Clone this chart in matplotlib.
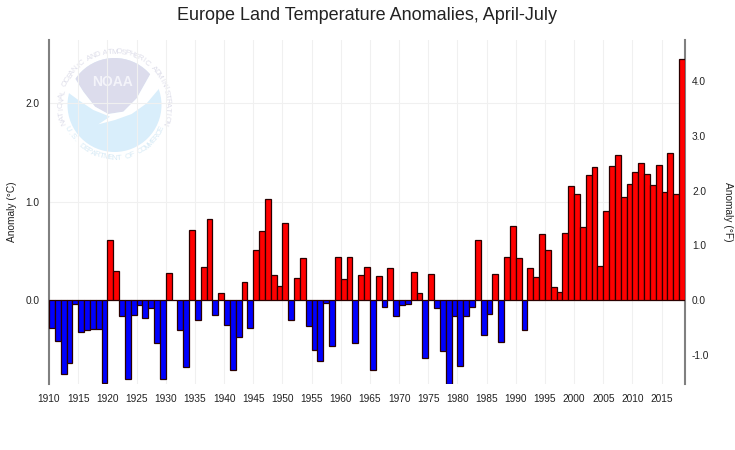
import numpy as np
import matplotlib
matplotlib.use('Agg')
import matplotlib.pyplot as plt
from matplotlib.patches import Circle, Polygon

plt.rcParams['font.family'] = ['Liberation Sans', 'DejaVu Sans']

# anomaly values in degrees C
years = list(range(1910, 2019))
anomaly_1910s = [-0.28, -0.42, -0.75, -0.64, -0.04, -0.32, -0.30, -0.29, -0.295, -0.84]
anomaly_1920s = [0.61, 0.29, -0.16, -0.80, -0.15, -0.05, -0.18, -0.08, -0.44, -0.80]
anomaly_1930s = [0.27, 0.005, -0.30, -0.68, 0.71, -0.20, 0.335, 0.825, -0.15, 0.07]
anomaly_1940s = [-0.25, -0.71, -0.375, 0.18, -0.28, 0.51, 0.70, 1.03, 0.25, 0.14]
anomaly_1950s = [0.78, -0.20, 0.22, 0.43, -0.26, -0.51, -0.615, -0.035, -0.47, 0.44]
anomaly_1960s = [0.21, 0.44, -0.44, 0.25, 0.33, -0.71, 0.24, -0.07, 0.32, -0.165]
anomaly_1970s = [-0.05, -0.04, 0.285, 0.07, -0.59, 0.265, -0.085, -0.52, -0.855, -0.16]
anomaly_1980s = [-0.67, -0.16, -0.07, 0.61, -0.36, -0.145, 0.265, -0.43, 0.44, 0.755]
anomaly_1990s = [0.43, -0.30, 0.32, 0.235, 0.67, 0.51, 0.13, 0.08, 0.68, 1.155]
anomaly_2000s = [1.08, 0.74, 1.265, 1.35, 0.35, 0.905, 1.36, 1.475, 1.045, 1.18]
anomaly_2010s = [1.30, 1.39, 1.28, 1.17, 1.37, 1.10, 1.49, 1.075, 2.445]
anomaly = np.array(anomaly_1910s + anomaly_1920s + anomaly_1930s + anomaly_1940s + anomaly_1950s
                   + anomaly_1960s + anomaly_1970s + anomaly_1980s + anomaly_1990s + anomaly_2000s + anomaly_2010s)
x_ticks = list(range(1910, 2016, 5))
c_ticks = [0.0, 1.0, 2.0]
f_ticks = [-1.0, 0.0, 1.0, 2.0, 3.0, 4.0]

W, H = 735, 450
fig = plt.figure(figsize=(W / 100, H / 100), dpi=100)

# logo layer in pixel coordinates, behind the chart
logo = fig.add_axes([0, 0, 1, 1], zorder=0)
logo.set_xlim(0, W)
logo.set_ylim(H, 0)
logo.axis('off')

cx, cy, r = 114.5, 105, 47
def zoomed(points):
    return [(px / 3, py / 3 + 20) for px, py in points]

disc = Circle((cx, cy), r, fc='#d9eefb', ec='none')
logo.add_patch(disc)
top = Polygon(zoomed([(225, 175), (250, 215), (285, 260), (325, 282), (370, 275), (410, 235), (455, 155),
                      (520, 100), (520, 60), (170, 60), (170, 130)]), fc='#dcdcec', ec='none')
logo.add_patch(top)
top.set_clip_path(Circle((cx, cy), r, transform=logo.transData))
wing = Polygon(zoomed([(190, 185), (225, 175), (250, 215), (285, 260), (325, 282), (370, 275), (410, 235), (455, 155),
                       (495, 185), (440, 250), (395, 282), (345, 300), (295, 313), (330, 290), (280, 270),
                       (235, 240), (190, 207)]), fc='white', ec='none')
logo.add_patch(wing)
logo.text(113, 82, 'NOAA', color='#f4f4fa', fontsize=10, fontweight='bold', ha='center', va='center')

# ring lettering, one character at a time
ring = 53
top_text = 'NATIONAL OCEANIC AND ATMOSPHERIC ADMINISTRATION'
for ch, ang in zip(top_text, np.linspace(199, -19, len(top_text))):
    a = np.radians(ang)
    logo.text(cx + ring * np.cos(a), cy - ring * np.sin(a), ch, rotation=ang - 90, rotation_mode='anchor',
              ha='center', va='center', fontsize=5.8, color='#dedeea')
bottom_text = 'U.S. DEPARTMENT OF COMMERCE'
for ch, ang in zip(bottom_text, np.linspace(207, 333, len(bottom_text))):
    a = np.radians(ang)
    logo.text(cx + ring * np.cos(a), cy - ring * np.sin(a), ch, rotation=ang + 90, rotation_mode='anchor',
              ha='center', va='center', fontsize=5.8, color='#d8ebf6')

# main chart, axes box runs x 49-685 and y 40-384 in pixels
ax = fig.add_axes([49 / W, 1 - 384 / H, 636 / W, 344 / H], zorder=1)
ax.patch.set_alpha(0)
colors = ['#ff0000' if v >= 0 else '#0000ff' for v in anomaly]
ax.bar(years, anomaly, width=1, align='edge', color=colors, edgecolor='#2a0000', linewidth=0.9, zorder=3)
ax.set_xlim(1910, 2019)
ax.set_ylim(-0.853, 2.64)

ax.set_xticks(x_ticks)
ax.set_yticks(c_ticks)
ax.set_yticklabels([f'{v:.1f}' for v in c_ticks])
ax.tick_params(axis='both', length=0, labelsize=7.3, colors='#222222')
ax.tick_params(axis='x', pad=7)
ax.tick_params(axis='y', pad=7)
ax.grid(True, color='#f0f0f0', linewidth=0.8, zorder=1)
ax.set_axisbelow(True)
ax.set_ylabel('Anomaly (°C)', fontsize=7.3, labelpad=6, color='#222222')

for side in ['top', 'bottom']:
    ax.spines[side].set_visible(False)
for side in ['left', 'right']:
    ax.spines[side].set_color('#808080')
    ax.spines[side].set_linewidth(1.5)

# right axis in Fahrenheit, same zero line
ax2 = ax.twinx()
ax2.set_ylim(-0.853 * 1.8, 2.64 * 1.8)
ax2.set_yticks(f_ticks)
ax2.set_yticklabels([f'{v:.1f}' for v in f_ticks])
ax2.tick_params(axis='y', length=0, labelsize=7.3, pad=5, colors='#222222')
ax2.set_ylabel('Anomaly (°F)', fontsize=7.3, rotation=270, labelpad=17, color='#222222')
for side in ['top', 'bottom', 'left', 'right']:
    ax2.spines[side].set_visible(False)

fig.text(367 / W, 1 - 15 / H, 'Europe Land Temperature Anomalies, April-July', fontsize=13, ha='center', va='center',
         color='#222222')

plt.savefig('out.png', dpi=100)
plt.close()
